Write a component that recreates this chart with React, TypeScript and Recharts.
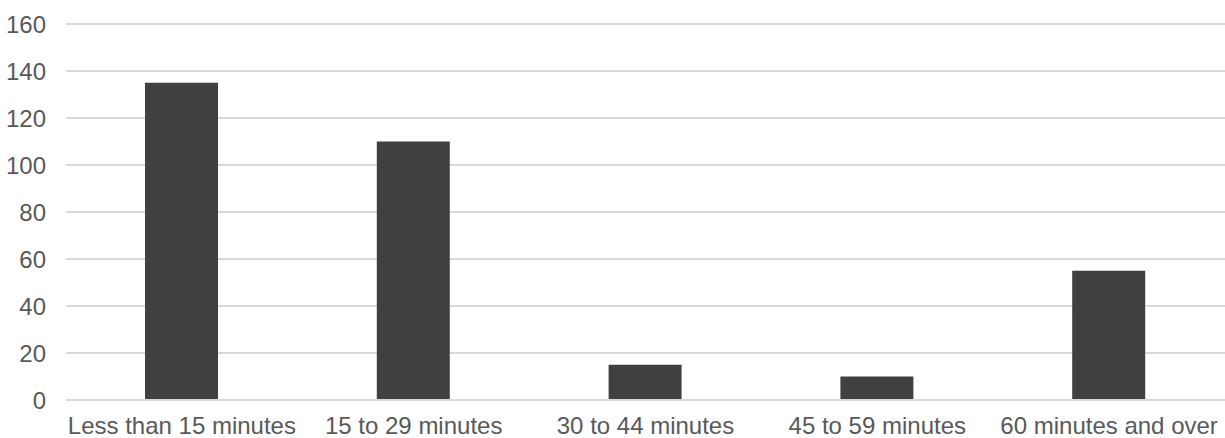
import { BarChart, Bar, XAxis, YAxis, CartesianGrid } from 'recharts';

const categories = [
  'Less than 15 minutes',
  '15 to 29 minutes',
  '30 to 44 minutes',
  '45 to 59 minutes',
  '60 minutes and over',
];
const counts = [135, 110, 15, 10, 55];
const yTicks = [0, 20, 40, 60, 80, 100, 120, 140, 160];

const data = categories.map((name, i) => ({ name, value: counts[i] }));

const tickStyle = { fill: '#595959', fontSize: 24, fontFamily: '"Liberation Sans", Arial, sans-serif' };

export default function App() {
  return (
    <div style={{ position: 'absolute', left: 0, top: 0, background: '#fff' }}>
      <BarChart width={1225} height={438} data={data} margin={{ top: 24, right: 0, bottom: 0, left: 0 }}>
        <CartesianGrid vertical={false} stroke="#d9d9d9" strokeWidth={2} />
        <XAxis
          dataKey="name"
          height={38}
          interval={0}
          tickLine={false}
          tickMargin={11}
          axisLine={{ stroke: '#d9d9d9', strokeWidth: 2 }}
          tick={tickStyle}
        />
        <YAxis
          width={66}
          domain={[0, 160]}
          ticks={yTicks}
          axisLine={false}
          tickLine={false}
          tickMargin={14}
          tick={tickStyle}
        />
        <Bar dataKey="value" fill="#404040" barSize={73} isAnimationActive={false} />
      </BarChart>
    </div>
  );
}
